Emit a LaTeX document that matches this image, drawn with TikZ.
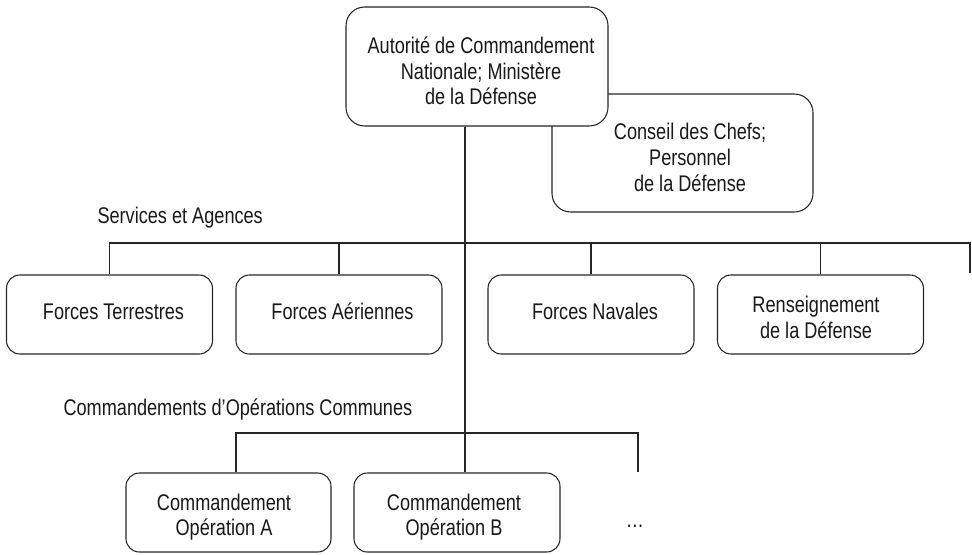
\documentclass[tikz,border=0pt]{standalone}
\usepackage{fontspec}
\setmainfont{Liberation Sans}[FakeStretch=0.8]
\begin{document}
\begin{tikzpicture}[x=0.75pt,y=-0.75pt,
  line width=0.8pt, draw=black!85,
  every node/.style={font=\fontsize{17pt}{19.3pt}\selectfont, text=black!90, align=center, inner sep=0pt},
  bigbox/.style={draw, rounded corners=14pt, minimum width=196.5pt, minimum height=89.25pt},
  smallbox/.style={draw, rounded corners=10pt, minimum width=154.5pt, minimum height=59.25pt},
  lbl/.style={anchor=base west},
  one/.style={anchor=base}
]
\useasboundingbox (0,0) rectangle (972,554);
% boxes
\node[bigbox, minimum width=195.75pt, minimum height=88.5pt] (cs) at (682.5,153) {};
\node (cstext) at (690,157.5) {Conseil des Chefs;\\Personnel\\de la Défense};
\node[bigbox, fill=white] (top) at (477,66.5) {};
\node (toptext) at (481,71) {Autorité de Commandement\\Nationale; Ministère\\de la Défense};

\node[smallbox] (ft) at (109.5,314.5) {};
\node[one] (fttext) at (113.5,319.3) {Forces Terrestres};
\node[smallbox] (fa) at (339,314.5) {};
\node[one] (fatext) at (342.5,319.3) {Forces Aériennes};
\node[smallbox] (fn) at (591,314.5) {};
\node[one] (fntext) at (595,319.3) {Forces Navales};
\node[smallbox] (rd) at (820.5,314.5) {};
\node (rdtext) at (816,317.5) {Renseignement\\de la Défense};

\node[smallbox, minimum width=153.75pt] (opA) at (228.5,512.5) {};
\node (opAtext) at (224,517) {Commandement\\Opération A};
\node[smallbox] (opB) at (457,512.5) {};
\node (opBtext) at (454,517) {Commandement\\Opération B};
\node[one] (dots) at (635,527) {…};

\node[lbl] (svc) at (97,223) {Services et Agences};
\node[lbl] (coc) at (63,415) {Commandements d’Opérations Communes};

% coordinates
\coordinate (xT) at (465,0);
\coordinate (xA) at (236,0);
\coordinate (j1) at (465,243);
\coordinate (j2) at (465,433);
\coordinate (end1) at (970,273);
\coordinate (end2) at (638,472);

% trunk
\draw (top.south -| xT) -- (opB.north -| xT);
% bus 1
\draw (ft.north) -- (ft.north |- j1) -- (end1 |- j1) -- (end1);
\foreach \n in {fa,fn,rd} \draw (\n.north) -- (\n.north |- j1);
% bus 2
\draw (opA.north -| xA) -- (xA |- j2) -- (end2 |- j2) -- (end2);
\end{tikzpicture}
\end{document}
